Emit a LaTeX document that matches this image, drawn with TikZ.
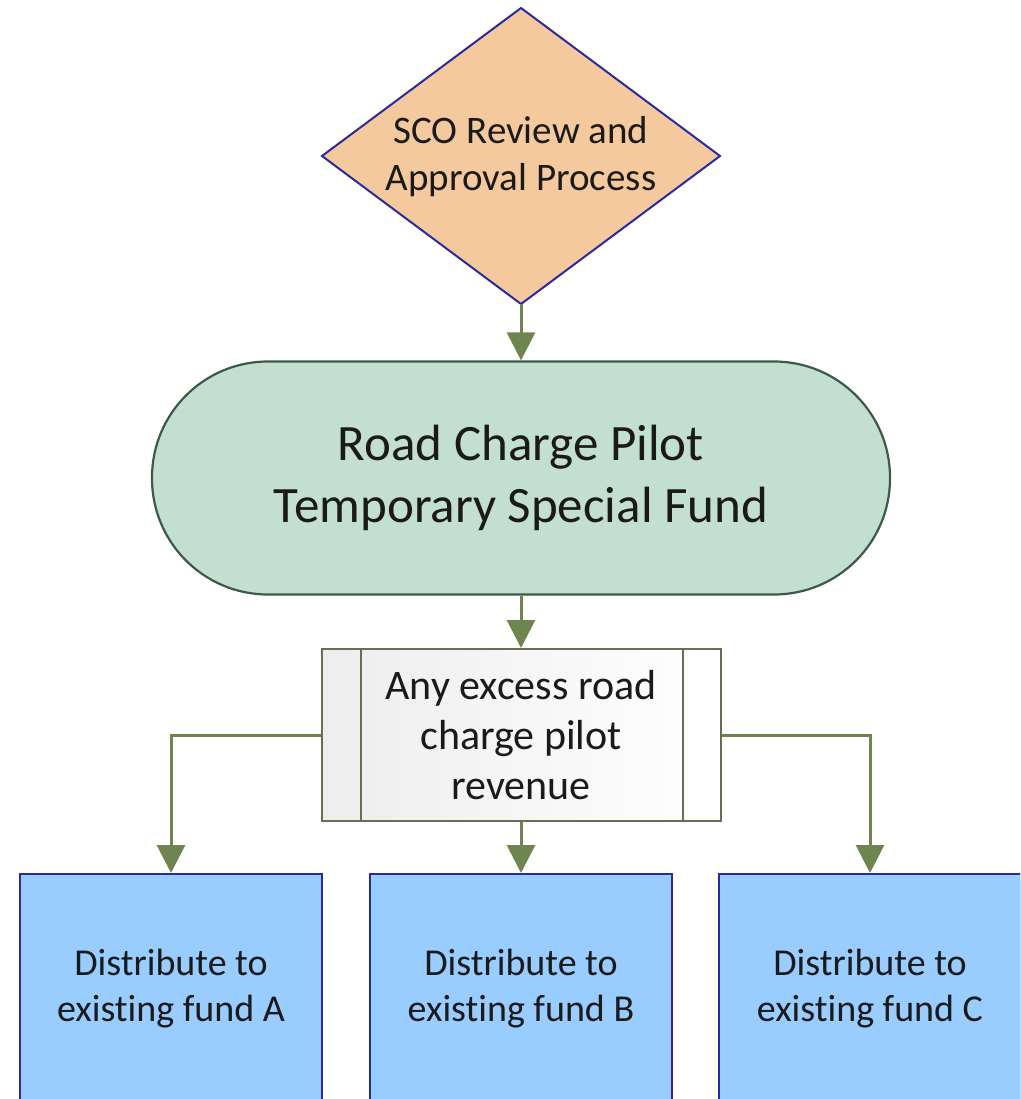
\documentclass[tikz,border=0pt]{standalone}
\usepackage{fontspec}
\setmainfont{Carlito}[Ligatures=NoCommon]
\usetikzlibrary{arrows.meta,calc}
\definecolor{peach}{HTML}{F4C99D}
\definecolor{dblue}{HTML}{2A2A9E}
\definecolor{mint}{HTML}{C3DFD1}
\definecolor{dgreen}{HTML}{3C5A46}
\definecolor{olive}{HTML}{6F8550}
\definecolor{skyblue}{HTML}{99CCFF}
\definecolor{boxedge}{HTML}{6E6A56}
\definecolor{txt}{HTML}{1A1A1A}
\begin{document}
\begin{tikzpicture}[x=1pt,y=-1pt,
  decisionshape/.style={draw=dblue,line width=2pt,fill=peach,line join=miter},
  decisiontext/.style={inner sep=0pt,align=center,text=txt,
    font=\fontsize{39}{47}\selectfont},
  fundbox/.style={rectangle,draw=dgreen,line width=2.2pt,fill=mint,
    minimum width=738pt,minimum height=233pt,rounded corners=116pt,align=center,
    text=txt,font=\fontsize{51}{62}\selectfont},
  subproc/.style={rectangle,draw=boxedge,line width=2pt,left color=black!7,right color=white,
    minimum width=399pt,minimum height=172pt,inner sep=0pt,align=center,text=txt,
    font=\fontsize{42}{50}\selectfont},
  distbox/.style={rectangle,draw=dblue,line width=2pt,fill=skyblue,
    minimum width=302pt,minimum height=230pt,align=center,text=txt,
    font=\fontsize{38}{46}\selectfont},
  flow/.style={draw=olive,line width=3pt,-{Triangle[width=28pt,length=28pt]}}
]
\useasboundingbox (0,0) rectangle (1020,1099);
\begin{scope}
\clip (0,0) rectangle (1020,1099);
\coordinate (scotop) at (521,8);
\coordinate (scoleft) at (322,156);
\coordinate (scobot) at (521,304);
\coordinate (scoright) at (720,156);
\draw[decisionshape] (scotop) -- (scoright) -- (scobot) -- (scoleft) -- cycle;
\node[decisiontext] (sco) at (521,157) {SCO Review and\\Approval Process};
\node[fundbox] (fund) at (521,478) {Road Charge Pilot\\Temporary Special Fund};
\node[subproc] (sub) at (521,735) {Any excess road\\charge pilot\\revenue};
\draw[boxedge,line width=2pt] ($(sub.north west)+(40,0)$) -- ($(sub.south west)+(40,0)$);
\draw[boxedge,line width=2pt] ($(sub.north east)+(-39,0)$) -- ($(sub.south east)+(-39,0)$);
\node[distbox] (fa) at (171,989) {Distribute to\\existing fund A};
\node[distbox] (fb) at (521,989) {Distribute to\\existing fund B};
\node[distbox] (fc) at (870,989) {Distribute to\\existing fund C};
\draw[flow] (scobot) -- (fund.north);
\draw[flow] (fund.south) -- (sub.north);
\draw[flow] (sub.south) -- (fb.north);
\draw[flow] (sub.west) -| (fa.north);
\draw[flow] (sub.east) -| (fc.north);
\end{scope}
\end{tikzpicture}
\end{document}
